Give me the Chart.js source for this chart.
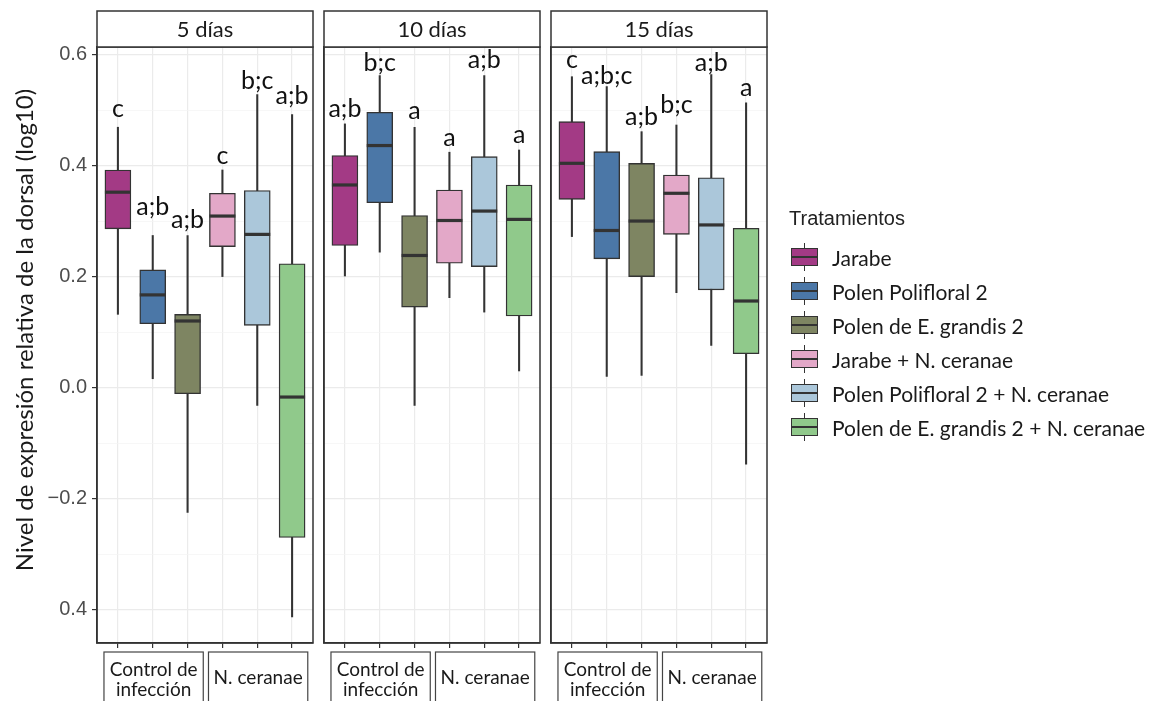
<!DOCTYPE html>
<html>
<head>
<meta charset="utf-8">
<script src="https://cdn.jsdelivr.net/npm/chart.js@4.4.1/dist/chart.umd.min.js"></script>
<style>
  body { margin: 0; background: #fff; }
  #wrap { position: relative; width: 1158px; height: 701px; overflow: hidden; background: #fff; }
  #wrap canvas { position: absolute; left: 0; top: 0; }
  #legendTitle { position: absolute; left: 789px; top: 205px; font: 20px 'Liberation Sans', Arial, sans-serif; color: #222; line-height: 26px; }
  .item { position: absolute; left: 791px; height: 34px; display: flex; align-items: center; }
  .key { position: relative; width: 27px; height: 18px; border: 1.4px solid #333; box-sizing: border-box; margin-right: 14px; }
  .key .mid { position: absolute; left: 0; right: 0; top: 6.5px; height: 2px; background: #333; }
  .key .wt, .key .wb { position: absolute; left: 12px; width: 1.4px; height: 5px; background: #333; }
  .key .wt { top: -6px; }
  .key .wb { bottom: -6px; }
  .lab { font: 21px Lato, 'Open Sans', sans-serif; color: #1a1a1a; white-space: nowrap; }
</style>
</head>
<body>
<div id="wrap">
  <canvas id="panel0" width="1158" height="701"></canvas>
  <canvas id="panel1" width="1158" height="701"></canvas>
  <canvas id="panel2" width="1158" height="701"></canvas>
  <div id="legendTitle">Tratamientos</div>
</div>
<script>
// Facets, groups and treatments
const facets = ['5 días', '10 días', '15 días'];
const groupLabels = [['Control de', 'infección'], ['N. ceranae']];
const treatments = [
  'Jarabe',
  'Polen Polifloral 2',
  'Polen de E. grandis 2',
  'Jarabe + N. ceranae',
  'Polen Polifloral 2 + N. ceranae',
  'Polen de E. grandis 2 + N. ceranae'
];
const treatmentColors = ['#a33a85', '#4b77a7', '#7e8562', '#e3a8c8', '#abc7da', '#90c98b'];
const positions = [1, 2, 3, 4, 5, 6];

// Box statistics per day (log10 relative expression)
const upper5  = [0.469, 0.274, 0.274, 0.392, 0.528, 0.492];
const q3_5    = [0.392, 0.212, 0.132, 0.350, 0.355, 0.223];
const median5 = [0.352, 0.167, 0.120, 0.309, 0.276, -0.017];
const q1_5    = [0.286, 0.115, -0.011, 0.254, 0.112, -0.270];
const lower5  = [0.132, 0.016, -0.225, 0.200, -0.032, -0.413];
const letters5 = ['c', 'a;b', 'a;b', 'c', 'b;c', 'a;b'];
const letterY5 = [0.488, 0.311, 0.287, 0.403, 0.538, 0.511];

const upper10  = [0.475, 0.562, 0.469, 0.424, 0.562, 0.428];
const q3_10    = [0.418, 0.496, 0.310, 0.356, 0.416, 0.365];
const median10 = [0.365, 0.436, 0.238, 0.301, 0.318, 0.303];
const q1_10    = [0.256, 0.333, 0.145, 0.224, 0.218, 0.129];
const lower10  = [0.201, 0.244, -0.032, 0.162, 0.136, 0.030];
const letters10 = ['a;b', 'b;c', 'a', 'a', 'a;b', 'a'];
const letterY10 = [0.487, 0.571, 0.484, 0.436, 0.575, 0.440];

const upper15  = [0.560, 0.542, 0.461, 0.473, 0.564, 0.513];
const q3_15    = [0.479, 0.425, 0.404, 0.383, 0.378, 0.287];
const median15 = [0.404, 0.283, 0.300, 0.350, 0.293, 0.156];
const q1_15    = [0.339, 0.232, 0.200, 0.276, 0.176, 0.061];
const lower15  = [0.272, 0.020, 0.022, 0.171, 0.076, -0.138];
const letters15 = ['c', 'a;b;c', 'a;b', 'b;c', 'a;b', 'a'];
const letterY15 = [0.576, 0.546, 0.473, 0.495, 0.571, 0.526];

// Y axis ticks
const majorTickValues = [0.6, 0.4, 0.2, 0, -0.2, -0.4];
const majorTickLabels = ['0.6', '0.4', '0.2', '0.0', '−0.2', '0.4'];
const minorTickValues = [0.5, 0.3, 0.1, -0.1, -0.3];

const yTitle = 'Nivel de expresión relativa de la dorsal (log10)';

const days = [
  { upper: upper5,  q3: q3_5,  median: median5,  q1: q1_5,  lower: lower5,  letters: letters5,  letterY: letterY5 },
  { upper: upper10, q3: q3_10, median: median10, q1: q1_10, lower: lower10, letters: letters10, letterY: letterY10 },
  { upper: upper15, q3: q3_15, median: median15, q1: q1_15, lower: lower15, letters: letters15, letterY: letterY15 }
];

// Layout
const W = 1158, H = 701;
const panelLeft = [97, 324, 551];
const panelWidth = 216;
const plotTop = 47, plotBottom = 643, stripTop = 11;
const yMin = -0.46, yMax = 0.6135;
const groupSpans = [[0.6, 3.45], [3.6, 6.45]];
const geoFont = "Lato, 'Open Sans', sans-serif";

const isMajor = v => majorTickValues.some(m => Math.abs(m - v) < 1e-6);
const tickLabel = v => {
  const i = majorTickValues.findIndex(m => Math.abs(m - v) < 1e-6);
  return i >= 0 ? majorTickLabels[i] : '';
};
const allTicks = majorTickValues.concat(minorTickValues).sort((a, b) => a - b);

function makePanel(p) {
  const d = days[p];
  const first = p === 0;
  const left = panelLeft[p];
  const right = left + panelWidth;

  const decor = {
    id: 'facetDecor' + p,
    afterDatasetsDraw(chart) {
      const { ctx, scales: { x, y } } = chart;
      ctx.save();
      ctx.font = '25px ' + geoFont;
      ctx.fillStyle = '#111';
      ctx.textAlign = 'center';
      ctx.textBaseline = 'alphabetic';
      d.letters.forEach((t, i) => {
        ctx.fillText(t, x.getPixelForValue(positions[i]), y.getPixelForValue(d.letterY[i]));
      });
      ctx.restore();
    },
    afterDraw(chart) {
      const { ctx, chartArea: a, scales: { x } } = chart;
      ctx.save();
      // panel frame
      ctx.strokeStyle = '#333';
      ctx.lineWidth = 1.5;
      ctx.strokeRect(a.left, a.top, a.width, a.height);
      // strip
      ctx.fillStyle = '#fff';
      ctx.fillRect(a.left, stripTop, a.width, a.top - stripTop);
      ctx.strokeRect(a.left, stripTop, a.width, a.top - stripTop);
      ctx.fillStyle = '#1a1a1a';
      ctx.font = '22px ' + geoFont;
      ctx.textAlign = 'center';
      ctx.textBaseline = 'middle';
      ctx.fillText(facets[p], (a.left + a.right) / 2, (stripTop + a.top) / 2 + 1);
      // group boxes under the axis
      ctx.lineWidth = 1.2;
      ctx.strokeStyle = '#444';
      ctx.font = '19px ' + geoFont;
      groupSpans.forEach((span, g) => {
        const x1 = x.getPixelForValue(span[0]);
        const x2 = x.getPixelForValue(span[1]);
        ctx.strokeRect(x1, 652, x2 - x1, 80);
        const lines = groupLabels[g];
        const cx = (x1 + x2) / 2;
        if (lines.length === 2) {
          ctx.fillText(lines[0], cx, 670);
          ctx.fillText(lines[1], cx, 690);
        } else {
          ctx.fillText(lines[0], cx, 678);
        }
      });
      // y axis title
      if (first) {
        ctx.translate(25, 330);
        ctx.rotate(-Math.PI / 2);
        ctx.font = '24px ' + geoFont;
        ctx.fillStyle = '#1a1a1a';
        ctx.fillText(yTitle, 0, 0);
      }
      ctx.restore();
    }
  };

  new Chart(document.getElementById('panel' + p), {
    type: 'bar',
    data: {
      datasets: [
        {
          type: 'bar', label: 'whisker',
          data: positions.map((x, i) => ({ x, y: [d.lower[i], d.upper[i]] })),
          backgroundColor: '#333', barThickness: 1.4, grouped: false, order: 3
        },
        {
          type: 'bar', label: 'box',
          data: positions.map((x, i) => ({ x, y: [d.q1[i], d.q3[i]] })),
          backgroundColor: treatmentColors, borderColor: '#333', borderWidth: 1.4,
          borderSkipped: false, barThickness: 26, grouped: false, order: 2
        },
        {
          type: 'line', label: 'median',
          data: positions.map((x, i) => ({ x, y: d.median[i] })),
          showLine: false, pointStyle: 'line', pointRadius: 13, pointHoverRadius: 13,
          pointBorderColor: '#333', borderColor: '#333', pointBorderWidth: 3.2, order: 1
        }
      ]
    },
    options: {
      responsive: false,
      animation: false,
      events: [],
      layout: { padding: { left: first ? 0 : left, right: W - right, top: plotTop, bottom: 0 } },
      plugins: { legend: { display: false }, tooltip: { enabled: false } },
      scales: {
        x: {
          type: 'linear', min: 0.4, max: 6.6, offset: false,
          afterBuildTicks: s => { s.ticks = positions.map(v => ({ value: v })); },
          afterFit: s => { s.height = H - plotBottom; },
          ticks: { display: false },
          grid: { offset: false, color: '#ebebeb', lineWidth: 1.2, tickColor: '#333', tickLength: 5, drawTicks: true },
          border: { display: true, color: '#333', width: 1.5 }
        },
        y: {
          type: 'linear', min: yMin, max: yMax,
          afterBuildTicks: s => { s.ticks = allTicks.map(v => ({ value: v })); },
          afterFit: s => { s.width = first ? left : 0; },
          ticks: {
            display: first, autoSkip: false, padding: 5,
            callback: v => tickLabel(v),
            color: '#4d4d4d',
            font: { family: "'Liberation Sans', Arial, sans-serif", size: 20 }
          },
          grid: {
            color: c => isMajor(c.tick.value) ? '#ebebeb' : '#f3f3f3',
            lineWidth: c => isMajor(c.tick.value) ? 1.2 : 0.7,
            drawTicks: first, tickLength: 5,
            tickColor: c => isMajor(c.tick.value) ? '#333' : 'rgba(0,0,0,0)'
          },
          border: { display: true, color: '#333', width: 1.5 }
        }
      }
    },
    plugins: [decor]
  });
}

[0, 1, 2].forEach(makePanel);

// Legend
const wrap = document.getElementById('wrap');
treatments.forEach((name, i) => {
  const item = document.createElement('div');
  item.className = 'item';
  item.style.top = (240 + 34 * i) + 'px';
  const key = document.createElement('div');
  key.className = 'key';
  key.style.background = treatmentColors[i];
  key.innerHTML = '<div class="wt"></div><div class="mid"></div><div class="wb"></div>';
  const lab = document.createElement('span');
  lab.className = 'lab';
  lab.textContent = name;
  item.appendChild(key);
  item.appendChild(lab);
  wrap.appendChild(item);
});
</script>
</body>
</html>
